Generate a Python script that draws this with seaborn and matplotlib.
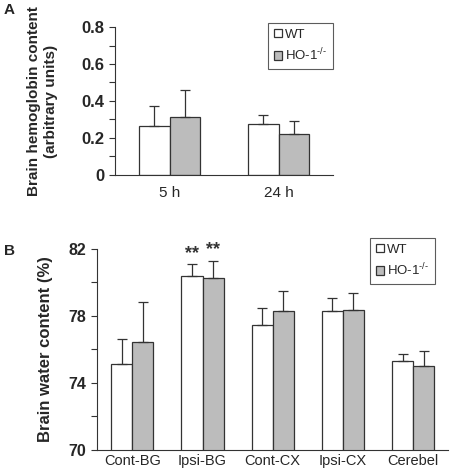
import matplotlib
matplotlib.use("Agg")
import matplotlib.pyplot as plt
import seaborn as sns
import pandas as pd
import numpy as np

sns.set_style("ticks")
plt.rcParams['font.family'] = ['Liberation Sans', 'DejaVu Sans']
plt.rcParams['mathtext.fontset'] = 'custom'
plt.rcParams['mathtext.rm'] = 'Liberation Sans'

groups = ["WT", r"HO-1$^{\text{-/-}}$"]

# Panel A
a_times = ["5 h", "24 h"]
a_wt = [0.266, 0.275]
a_ho = [0.313, 0.223]
a_wt_err = [0.109, 0.047]
a_ho_err = [0.148, 0.070]

# Panel B
b_regions = ["Cont-BG", "Ipsi-BG", "Cont-CX", "Ipsi-CX", "Cerebel"]
b_wt = [75.15, 80.41, 77.44, 78.32, 75.31]
b_ho = [76.45, 80.27, 78.32, 78.38, 75.01]
b_wt_err = [1.48, 0.67, 1.04, 0.73, 0.40]
b_ho_err = [2.37, 1.03, 1.19, 0.97, 0.90]
b_sig = ["", "**", "", "", ""]

palette = {groups[0]: "white", groups[1]: "#bcbcbc"}
edge = "#333333"


def make_df(cats, wt, ho, wte, hoe):
    rows = []
    for c, v, e in zip(cats, wt, wte):
        rows.append((c, groups[0], v, e))
    for c, v, e in zip(cats, ho, hoe):
        rows.append((c, groups[1], v, e))
    return pd.DataFrame(rows, columns=["cat", "group", "value", "err"])


def draw(ax, df, cats, width):
    sns.barplot(data=df, x="cat", y="value", hue="group", order=cats,
                hue_order=groups, palette=palette, edgecolor=edge,
                linewidth=0.9, width=width, errorbar=None, ax=ax)
    bars = list(ax.patches)[:len(df)]
    for p, err in zip(bars, df["err"]):
        xc = p.get_x() + p.get_width() / 2
        top = p.get_y() + p.get_height()
        ax.errorbar([xc], [top], yerr=[[0], [err]], fmt="none",
                    ecolor=edge, elinewidth=0.9, capsize=3.5, capthick=0.9)
    return bars


def legend(ax, anchor):
    leg = ax.legend(loc="upper right", bbox_to_anchor=anchor, frameon=True,
                    fancybox=False, edgecolor=edge, fontsize=9.5,
                    handlelength=0.6, handleheight=0.6, handletextpad=0.25,
                    borderpad=0.45, labelspacing=0.45, borderaxespad=0)
    leg.get_frame().set_linewidth(0.8)
    return leg


fig = plt.figure(figsize=(4.5, 4.75), dpi=100)

# ---------- Panel A ----------
axA = fig.add_axes([0.256, 0.632, 0.484, 0.311])
dfA = make_df(a_times, a_wt, a_ho, a_wt_err, a_ho_err)
draw(axA, dfA, a_times, 0.56)
axA.set_ylim(0, 0.8)
axA.set_xlim(-0.5, 1.5)
axA.set_yticks(np.arange(0, 0.81, 0.1))
axA.set_yticklabels(["0", "", "0.2", "", "0.4", "", "0.6", "", "0.8"],
                    fontsize=12, fontweight="bold")
axA.tick_params(axis="x", length=0, labelsize=11, pad=8)
axA.tick_params(axis="y", length=4, width=0.8, color=edge, pad=4)
axA.set_xlabel("")
axA.set_ylabel("Brain hemoglobin content\n(arbitrary units)", fontsize=11,
               fontweight="bold", linespacing=1.25)
axA.yaxis.set_label_coords(-0.262, 0.5)
sns.despine(ax=axA)
for s in ["left", "bottom"]:
    axA.spines[s].set_color(edge)
    axA.spines[s].set_linewidth(0.8)
legend(axA, (1.0, 1.03))
fig.text(0.008, 0.978, "A", fontsize=11, fontweight="bold", va="center")

# ---------- Panel B ----------
axB = fig.add_axes([0.216, 0.0526, 0.78, 0.4234])
dfB = make_df(b_regions, b_wt, b_ho, b_wt_err, b_ho_err)
bars = draw(axB, dfB, b_regions, 0.6)
axB.set_ylim(70, 82)
axB.set_xlim(-0.5, 4.5)
axB.set_yticks(np.arange(70, 82.1, 2))
axB.set_yticklabels(["70", "", "74", "", "78", "", "82"],
                    fontsize=11.5, fontweight="bold")
axB.tick_params(axis="x", length=0, labelsize=10.5, pad=3)
axB.tick_params(axis="y", length=4, width=0.8, color=edge, pad=4)
axB.set_xlabel("")
axB.set_ylabel("Brain water content (%)", fontsize=12, fontweight="bold")
axB.yaxis.set_label_coords(-0.125, 0.5)
sns.despine(ax=axB)
for s in ["left", "bottom"]:
    axB.spines[s].set_color(edge)
    axB.spines[s].set_linewidth(0.8)
n = len(b_regions)
for i, s in enumerate(b_sig):
    if s:
        for gi, (vals, errs) in enumerate([(b_wt, b_wt_err), (b_ho, b_ho_err)]):
            p = bars[gi * n + i]
            xc = p.get_x() + p.get_width() / 2
            axB.text(xc, vals[i] + errs[i] + 0.15, s, ha="center", va="bottom",
                     fontsize=13, fontweight="bold", color="#333333")
legend(axB, (0.963, 1.055))
fig.text(0.008, 0.472, "B", fontsize=11, fontweight="bold", va="center")

fig.savefig("out.png", dpi=100)
